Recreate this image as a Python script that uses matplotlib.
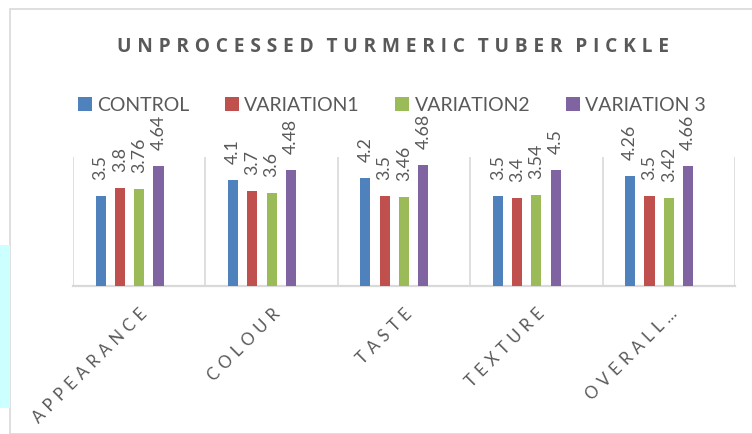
import matplotlib
matplotlib.use("Agg")
import matplotlib.pyplot as plt
import numpy as np
from matplotlib.patches import Rectangle

categories = ["APPEARANCE", "COLOUR", "TASTE", "TEXTURE", "OVERALL\u2026"]
series_names = ["CONTROL", "VARIATION1", "VARIATION2", "VARIATION 3"]
control    = [3.5, 4.1, 4.2, 3.5, 4.26]
variation1 = [3.8, 3.7, 3.5, 3.4, 3.5]
variation2 = [3.76, 3.6, 3.46, 3.54, 3.42]
variation3 = [4.64, 4.48, 4.68, 4.5, 4.66]
title = "UNPROCESSED TURMERIC TUBER PICKLE"

colors = ["#4F81BD", "#C0504D", "#9BBB59", "#8064A2"]
GRAY_TXT = "#595959"
GRID = "#D9D9D9"


def spaced(s, sp="\u2009"):
    return sp.join(s)


fig = plt.figure(figsize=(7.52, 4.34), dpi=100)
ax = fig.add_axes([73 / 752, 1 - 286 / 434, (735 - 73) / 752, 129 / 434])

x = np.arange(len(categories))
slot = 0.146
width = 0.076
for j, (vals, name, c) in enumerate(zip([control, variation1, variation2, variation3], series_names, colors)):
    pos = x + (j - 2) * slot
    ax.bar(pos, vals, width=width, color=c, label=name, zorder=3)
    for px, v in zip(pos, vals):
        ax.annotate(f"{v:g}", (px, v), xytext=(0, 11.5), textcoords="offset points",
                    rotation=90, ha="center", va="bottom", fontsize=12.8,
                    family=["Lato", "DejaVu Sans"], color=GRAY_TXT)

ax.set_xlim(-0.5, len(categories) - 0.5)
ax.set_ylim(0, 5)
for b in np.arange(-0.5, len(categories), 1.0):
    ax.axvline(b, color=GRID, lw=1.2, zorder=1)
for s in ["top", "left", "right"]:
    ax.spines[s].set_visible(False)
ax.spines["bottom"].set_color(GRID)
ax.spines["bottom"].set_linewidth(1.6)
ax.set_yticks([])
ax.set_xticks(x)
ax.set_xticklabels([spaced(c, " \u200a") for c in categories], rotation=45, ha="right",
                   rotation_mode="anchor", fontsize=12, color=GRAY_TXT,
                   family=["Lato", "DejaVu Sans"])
ax.tick_params(axis="x", length=0, pad=14)

fig.text(0.523, 0.892, "\u2009 \u2009".join(spaced(w, "\u2009\u200a") for w in title.split()),
         ha="center", va="center", fontsize=13.8, fontweight="bold", color=GRAY_TXT,
         family=["Open Sans", "DejaVu Sans"])

leg = fig.legend(loc="center", bbox_to_anchor=(0.521, 0.757), ncol=4, frameon=False,
                 handlelength=0.72, handleheight=0.72, handletextpad=0.3,
                 columnspacing=1.8, prop={"family": ["Lato", "DejaVu Sans"], "size": 14})
for t in leg.get_texts():
    t.set_color(GRAY_TXT)

# chart area border and the cyan shape peeking in from the left
fig.patches.append(Rectangle((10 / 752, 0), 1, 1 - 9 / 434, transform=fig.transFigure,
                             fill=False, edgecolor=GRID, lw=1.2))
fig.patches.append(Rectangle((0, 1 - 408 / 434), 10 / 752, 163 / 434, transform=fig.transFigure,
                             facecolor="#CCFFFF", edgecolor="none"))

fig.savefig("out.png", dpi=100)
